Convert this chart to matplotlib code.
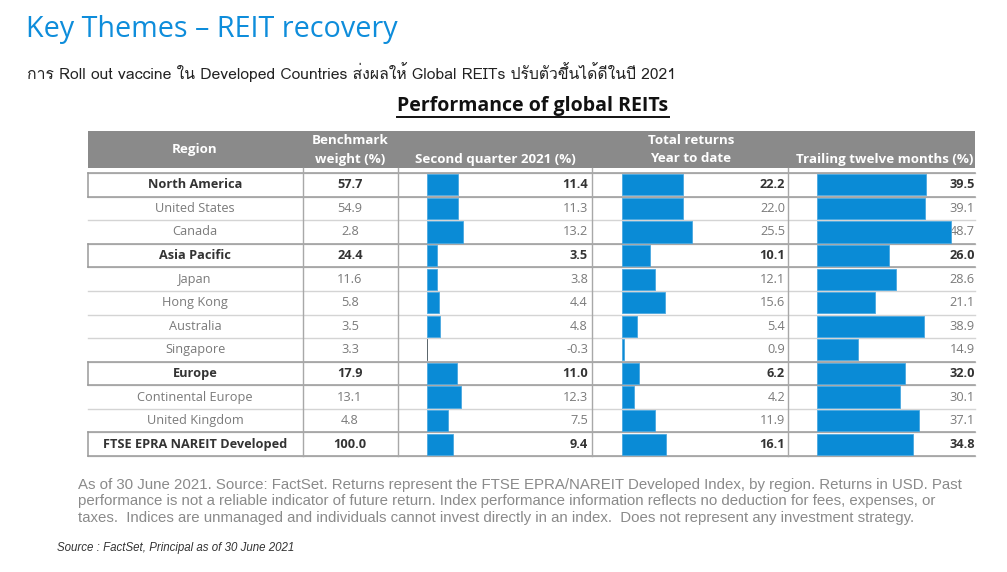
import matplotlib
matplotlib.use("Agg")
import matplotlib.pyplot as plt
from matplotlib import font_manager
from matplotlib.ft2font import FT2Font

# ---- data -------------------------------------------------------------
regions = ["North America", "United States", "Canada", "Asia Pacific", "Japan",
           "Hong Kong", "Australia", "Singapore", "Europe", "Continental Europe",
           "United Kingdom", "FTSE EPRA NAREIT Developed"]
is_total = [True, False, False, True, False, False, False, False, True, False, False, True]
weight = [57.7, 54.9, 2.8, 24.4, 11.6, 5.8, 3.5, 3.3, 17.9, 13.1, 4.8, 100.0]
q2_2021 = [11.4, 11.3, 13.2, 3.5, 3.8, 4.4, 4.8, -0.3, 11.0, 12.3, 7.5, 9.4]
ytd = [22.2, 22.0, 25.5, 10.1, 12.1, 15.6, 5.4, 0.9, 6.2, 4.2, 11.9, 16.1]
ttm = [39.5, 39.1, 48.7, 26.0, 28.6, 21.1, 38.9, 14.9, 32.0, 30.1, 37.1, 34.8]

BLUE = "#0a8bd6"
HEADER_GRAY = "#8a8a8a"
W, H = 1007, 572


def thai_font():
    for f in font_manager.fontManager.ttflist:
        try:
            if 0x0E01 in FT2Font(f.fname).get_charmap():
                return f.name
        except Exception:
            continue
    return None


thai = thai_font()
thai_family = ([thai] if thai else []) + ["Liberation Sans", "DejaVu Sans"]

fig = plt.figure(figsize=(W / 100, H / 100), dpi=100)
fig.patch.set_facecolor("white")

# layout axes in pixel units
ax = fig.add_axes([0, 0, 1, 1])
ax.set_xlim(0, W)
ax.set_ylim(H, 0)
ax.axis("off")

ax.text(26, 30, "Key Themes \u2013 REIT recovery", fontsize=20.7, color="#0e8ddb",
        family="Open Sans", va="center", ha="left")
ax.text(27, 72, "การ Roll out vaccine ใน Developed Countries ส่งผลให้ Global REITs ปรับตัวขึ้นได้ดีในปี 2021",
        fontsize=11.3, color="#222222", family=thai_family, va="center", ha="left")

t = ax.text(533, 106, "Performance of global REITs", fontsize=14, fontweight="bold",
            color="#111111", family="Open Sans", va="center", ha="center")
fig.canvas.draw()
bb = t.get_window_extent().transformed(ax.transData.inverted())
ax.plot([bb.x0, bb.x1], [117, 117], color="#111111", lw=1.4)

# table geometry
left, right = 88, 975
head_top, head_bot = 131, 168
body_top, body_bot = 173, 456
n = len(regions)
pitch = (body_bot - body_top) / n
dividers = [303, 398, 592, 788]

ax.add_patch(plt.Rectangle((left, head_top), right - left, head_bot - head_top,
                           facecolor=HEADER_GRAY, edgecolor="none"))
hkw = dict(color="white", fontsize=9.6, fontweight="bold", family="Open Sans",
           ha="center", va="center")
ax.text(195, 150, "Region", **hkw)
ax.text(350, 140, "Benchmark", **hkw)
ax.text(350, 159, "weight (%)", **hkw)
ax.text(495, 159, "Second quarter 2021 (%)", **hkw)
ax.text(691, 140, "Total returns", **hkw)
ax.text(691, 159, "Year to date", **hkw)
ax.text(885, 159, "Trailing twelve months (%)", **hkw)

# row lines
for i in range(n + 1):
    y = body_top + i * pitch
    ax.plot([left, right], [y, y], color="#d4d4d4", lw=1, zorder=1)
for i, tot in enumerate(is_total):
    if tot:
        y0 = body_top + i * pitch
        y1 = y0 + pitch
        ax.plot([left, right], [y0, y0], color="#9a9a9a", lw=1.1, zorder=2)
        ax.plot([left, right], [y1, y1], color="#9a9a9a", lw=1.1, zorder=2)
        ax.plot([left, left], [y0, y1], color="#9a9a9a", lw=1.1, zorder=2)
for x in dividers:
    ax.plot([x, x], [head_bot, body_bot], color="#a8a8a8", lw=1, zorder=2)

# body text
for i in range(n):
    yc = body_top + (i + 0.5) * pitch
    bold = is_total[i]
    kw = dict(fontsize=9.2, family="Open Sans", va="center",
              fontweight="bold" if bold else "normal",
              color="#333333" if bold else "#7a7a7a")
    ax.text(195, yc, regions[i], ha="center", **kw)
    ax.text(350, yc, f"{weight[i]:.1f}", ha="center", **kw)
    ax.text(588, yc, f"{q2_2021[i]:.1f}", ha="right", **kw)
    ax.text(785, yc, f"{ytd[i]:.1f}", ha="right", **kw)
    ax.text(975, yc, f"{ttm[i]:.1f}", ha="right", **kw)

# bar columns: 2.75 px per percentage point
PX_PER_UNIT = 2.75


def bar_axes(x_start, width_px, values):
    bax = fig.add_axes([x_start / W, 1 - body_bot / H, width_px / W, (body_bot - body_top) / H])
    bax.set_xlim(0, width_px / PX_PER_UNIT)
    bax.set_ylim(n - 0.5, -0.5)
    edges = ["#555555" if v < 0 else "#4aa8e0" for v in values]
    bax.barh(range(n), values, height=0.9, color=BLUE, edgecolor=edges, linewidth=0.6)
    bax.axis("off")
    bax.patch.set_alpha(0)


bar_axes(427, 150, q2_2021)
bar_axes(622, 150, ytd)
bar_axes(817, 150, ttm)

# footnotes
notes = [
    "As of 30 June 2021. Source: FactSet. Returns represent the FTSE EPRA/NAREIT Developed Index, by region. Returns in USD. Past",
    "performance is not a reliable indicator of future return. Index performance information reflects no deduction for fees, expenses, or",
    "taxes.  Indices are unmanaged and individuals cannot invest directly in an index.  Does not represent any investment strategy.",
]
for k, line in enumerate(notes):
    ax.text(78, 485 + k * 16.5, line, fontsize=10.8, color="#8a8a8a", family="Liberation Sans",
            va="center", ha="left")
ax.text(57, 548, "Source : FactSet, Principal as of 30 June 2021", fontsize=8.3, style="italic",
        color="#333333", family="Liberation Sans", va="center", ha="left")

fig.savefig("out.png", dpi=100, facecolor="white")
